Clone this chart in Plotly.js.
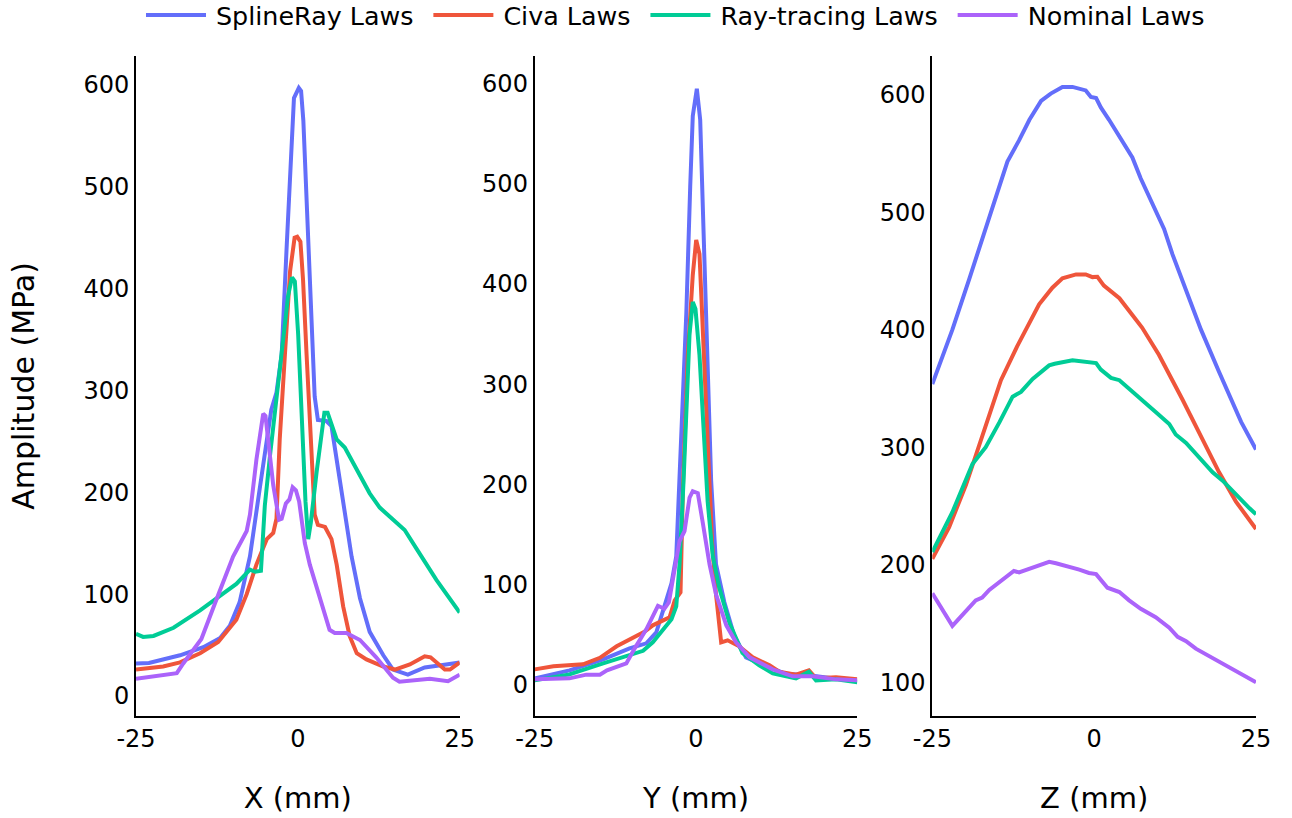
<!DOCTYPE html>
<html><head><meta charset="utf-8">
<script src="https://cdn.plot.ly/plotly-3.0.1.min.js"></script>
<style>
html,body{margin:0;padding:0;background:#fff;overflow:hidden}
#wrap{width:1292px;height:818px;overflow:hidden;position:relative}
#chart{width:646px;height:409px;transform:scale(2);transform-origin:0 0;position:absolute;left:0;top:0}
</style>
</head><body><div id="wrap"><div id="chart"></div></div>
<script>
// Series names and colours
const seriesNames = ['SplineRay Laws', 'Civa Laws', 'Ray-tracing Laws', 'Nominal Laws'];
const seriesColors = ['#636efa', '#EF553B', '#00cc96', '#ab63fa'];

// Panel 1: X scan (mm) -> Amplitude (MPa)
const p1SplineX = [-25, -23, -18.2, -14.6, -12, -10.5, -9, -7.4, -5.9, -4.8, -4.1, -3.3, -2.5, -1.75, -1.0, -0.6, 0.15, 0.5, 0.85, 1.35, 2.1, 2.6, 3.1, 4.4, 5.2, 6.0, 7.0, 8.3, 9.6, 11.1, 13.2, 14.7, 17.0, 19.6, 22.9, 25];
const p1SplineY = [32, 32.5, 40, 48, 57, 69, 92, 137, 203, 252, 281, 298, 335, 438, 541, 587, 597, 594, 565, 479, 376, 294, 271, 270, 265, 232, 182, 137, 96, 63, 40, 26, 21, 28, 31, 33];
const p1CivaX = [-25, -20.8, -18.2, -15.1, -12.3, -9.5, -7.9, -6.4, -4.8, -3.8, -3.3, -2.8, -2.0, -1.2, -0.5, -0.1, 0.4, 0.8, 1.35, 2.1, 2.6, 3.1, 4.2, 5.2, 6.0, 7.0, 8.0, 9.1, 10.6, 13.2, 15.0, 17.3, 19.6, 20.5, 22.7, 23.5, 25];
const p1CivaY = [26, 29, 33, 42, 53, 75, 100, 129, 154, 160, 174, 252, 335, 417, 450, 451, 446, 409, 335, 232, 178, 168, 166, 154, 129, 88, 59, 42, 36, 29, 26, 31, 39, 38, 26, 26, 33];
const p1RayX = [-25, -23.9, -22.3, -19.2, -15.1, -12.0, -9.5, -7.4, -6.6, -5.7, -5.1, -4.3, -3.3, -2.3, -1.5, -0.9, -0.46, 0.05, 0.57, 1.18, 1.6, 2.0, 2.9, 4.1, 4.6, 6.0, 7.25, 9.05, 11.1, 12.65, 14.7, 16.5, 18.3, 21.4, 25];
const p1RayY = [61, 58, 59, 67, 84, 98, 110, 124, 122, 123, 187, 236, 294, 351, 393, 411, 407, 355, 273, 191, 154, 170, 220, 278, 278, 252, 244, 222, 199, 185, 173, 163, 145, 114, 82];
const p1NomX = [-25, -18.7, -17.7, -14.9, -12.5, -10.0, -7.9, -7.4, -6.4, -5.35, -5.0, -4.6, -3.8, -2.9, -2.5, -1.85, -1.3, -0.8, -0.3, 0.2, 1.08, 1.85, 3.4, 4.9, 5.7, 7.5, 9.6, 12.1, 14.7, 15.7, 20.4, 23.2, 25];
const p1NomY = [17, 22.5, 32, 56, 96, 137, 162, 178, 232, 277, 275, 252, 207, 173, 174, 189, 193, 205, 202, 191, 150, 129, 98, 65, 62, 62, 55, 38, 18, 14, 17, 14.5, 21];

// Panel 2: Y scan
const p2SplineX = [-25, -19.6, -14.4, -10.3, -7.7, -6.15, -4.9, -3.8, -3.06, -2.3, -1.5, -0.9, -0.5, 0.13, 0.65, 1.16, 1.67, 2.35, 3.1, 4.4, 5.95, 7.75, 11.4, 13.9, 17.5, 21.7, 25];
const p2SplineY = [6, 14, 25, 36, 41, 52, 78, 101, 128, 245, 371, 497, 568, 595, 564, 455, 329, 203, 120, 82, 48, 27, 17, 10.6, 9, 6, 3];
const p2CivaX = [-25, -22.1, -17.5, -14.9, -12.3, -10.0, -8.0, -6.7, -5.1, -4.1, -3.3, -2.4, -2.0, -1.27, -0.5, 0.03, 0.54, 1.16, 1.8, 2.5, 3.1, 3.9, 4.9, 6.7, 8.8, 11.4, 12.9, 15.5, 17.5, 18.6, 21.7, 25];
const p2CivaY = [15, 18, 20, 26.5, 38, 46, 52.5, 59, 63, 67, 84, 92, 203, 329, 409, 444, 430, 329, 224, 141, 90, 42, 44, 38, 27, 19, 12.6, 9.7, 14, 6, 7, 5];
const p2RayX = [-25, -19.6, -14.4, -10.8, -8.2, -6.7, -5.1, -3.8, -3.06, -2.55, -1.93, -1.4, -1.0, -0.5, -0.08, 0.54, 1.05, 1.8, 2.6, 3.6, 5.2, 7.2, 9.8, 11.9, 15.5, 17.5, 18.6, 21.7, 25];
const p2RayY = [4, 10, 21, 29, 33.5, 42, 55, 65, 78, 120, 203, 287, 350, 382, 375, 329, 266, 183, 128, 96.5, 61, 31.5, 19, 11, 6, 12.6, 4, 5, 2];
const p2NomX = [-25, -19.6, -17, -14.9, -13.8, -10.8, -9.5, -7.7, -5.9, -4.9, -4.2, -3.3, -2.55, -1.78, -1.0, -0.5, 0.28, 1.05, 2.1, 3.1, 4.7, 6.2, 8.3, 11.9, 15.0, 18.1, 21.7, 25];
const p2NomY = [5, 6, 9.7, 9.7, 14, 21, 36, 55, 78.5, 75.5, 82, 120, 143, 153, 186.5, 193, 191, 161.5, 120, 90, 59, 42, 27, 15, 8, 8, 5, 4];

// Panel 3: Z scan
const p3SplineX = [-25, -21.9, -19.3, -16.75, -13.4, -11.6, -10.0, -8.2, -6.7, -4.9, -3.35, -1.3, -0.5, 0.3, 1.03, 2.3, 4.4, 5.9, 7.2, 9.0, 10.8, 12.1, 14.2, 16.5, 19.3, 22.7, 25];
const p3SplineY = [353.6, 400, 443, 486, 543, 561, 578.5, 594.6, 600.8, 606.5, 606.5, 603.5, 598, 597, 589, 578.5, 561, 546.5, 528.6, 507, 485.7, 464, 434, 400, 364, 321.5, 298];
const p3CivaX = [-25, -22.4, -19.8, -16.75, -14.4, -11.9, -8.5, -6.45, -4.9, -2.8, -1.3, -0.26, 0.5, 1.5, 3.9, 5.9, 7.4, 10.0, 12.1, 13.6, 16.7, 19.3, 21.9, 25];
const p3CivaY = [205, 232, 268, 320, 357, 385.7, 421.5, 435.7, 443.7, 447, 447, 444.7, 445, 437.5, 426.7, 412.5, 401.8, 378.6, 357, 341, 307, 278.6, 253.7, 230.4];
const p3RayX = [-25, -21.9, -18.8, -16.75, -14.6, -12.6, -11.3, -9.5, -6.95, -6.1, -3.35, -1.3, -0.5, 0.3, 1.03, 2.6, 3.9, 5.4, 7.4, 9.5, 11.6, 12.6, 14.2, 16.2, 18.3, 19.85, 21.9, 24.0, 25];
const p3RayY = [210.8, 244.7, 285.7, 300, 321.5, 343, 347, 358, 369.6, 371, 374, 372, 371, 371.5, 366, 359, 357, 350, 341, 330, 319.7, 310.8, 303.7, 291, 278.6, 271.5, 259, 248, 243];
const p3NomX = [-25, -21.9, -18.3, -17.3, -16.2, -12.4, -11.6, -9.5, -6.95, -5.9, -3.35, -2.3, -0.8, 0.3, 2.05, 3.9, 5.4, 7.2, 9.5, 11.6, 12.9, 14.2, 15.7, 19.3, 21.9, 25];
const p3NomY = [175.7, 148, 169.7, 172, 178.6, 194.7, 193.5, 198, 202.5, 201.3, 198, 195.8, 193, 192, 180.4, 176.8, 169.7, 162.5, 155.4, 146.5, 138.6, 135, 128.6, 118, 109, 100];

// Axis labels / ticks
const xTitles = ['X (mm)', 'Y (mm)', 'Z (mm)'];
const yTitle = 'Amplitude (MPa)';
const xTickVals = [-25, 0, 25];
const xTickText = ['-25', '0', '25'];

const panels = [
  [[p1SplineX, p1SplineY], [p1CivaX, p1CivaY], [p1RayX, p1RayY], [p1NomX, p1NomY]],
  [[p2SplineX, p2SplineY], [p2CivaX, p2CivaY], [p2RayX, p2RayY], [p2NomX, p2NomY]],
  [[p3SplineX, p3SplineY], [p3CivaX, p3CivaY], [p3RayX, p3RayY], [p3NomX, p3NomY]]
];

const traces = [];
panels.forEach((panel, pi) => {
  panel.forEach((s, si) => {
    traces.push({
      type: 'scatter', mode: 'lines',
      x: s[0], y: s[1],
      name: seriesNames[si],
      legendgroup: seriesNames[si],
      showlegend: pi === 0,
      line: {color: seriesColors[si], width: 2},
      xaxis: pi === 0 ? 'x' : 'x' + (pi + 1),
      yaxis: pi === 0 ? 'y' : 'y' + (pi + 1)
    });
  });
});

const domains = [[0, 0.289], [0.356, 0.644], [0.711, 1]];
const yRanges = [[-19.6, 628.3], [-31.6, 627.8], [71.3, 632.8]];

const axBase = {
  showgrid: false, zeroline: false, showline: true,
  linecolor: '#000', linewidth: 1, ticks: '',
  tickfont: {size: 12, color: '#000'}
};

const layout = {
  width: 646, height: 409,
  paper_bgcolor: '#fff', plot_bgcolor: '#fff',
  font: {family: 'Verdana, "DejaVu Sans", sans-serif', size: 12, color: '#000'},
  margin: {l: 68, r: 17.5, t: 27.5, b: 50.5, autoexpand: false},
  showlegend: true,
  legend: {
    orientation: 'h', x: 0, xanchor: 'left', y: 1.107, yanchor: 'top',
    font: {size: 12.7, color: '#000'}, bgcolor: 'rgba(0,0,0,0)'
  }
};

for (let i = 0; i < 3; i++) {
  const xk = i === 0 ? 'xaxis' : 'xaxis' + (i + 1);
  const yk = i === 0 ? 'yaxis' : 'yaxis' + (i + 1);
  layout[xk] = Object.assign({}, axBase, {
    domain: domains[i], range: [-25, 25], tickmode: 'array', tickvals: xTickVals, ticktext: xTickText,
    anchor: i === 0 ? 'y' : 'y' + (i + 1),
    title: {text: xTitles[i], font: {size: 14.5, color: '#000'}, standoff: 18}
  });
  layout[yk] = Object.assign({}, axBase, {
    domain: [0, 1], range: yRanges[i], dtick: 100, tick0: 0,
    anchor: i === 0 ? 'x' : 'x' + (i + 1)
  });
}
layout.yaxis.title = {text: yTitle, font: {size: 15, color: '#000'}, standoff: 20};

Plotly.newPlot('chart', traces, layout, {displayModeBar: false, staticPlot: true});
</script>
</body></html>
